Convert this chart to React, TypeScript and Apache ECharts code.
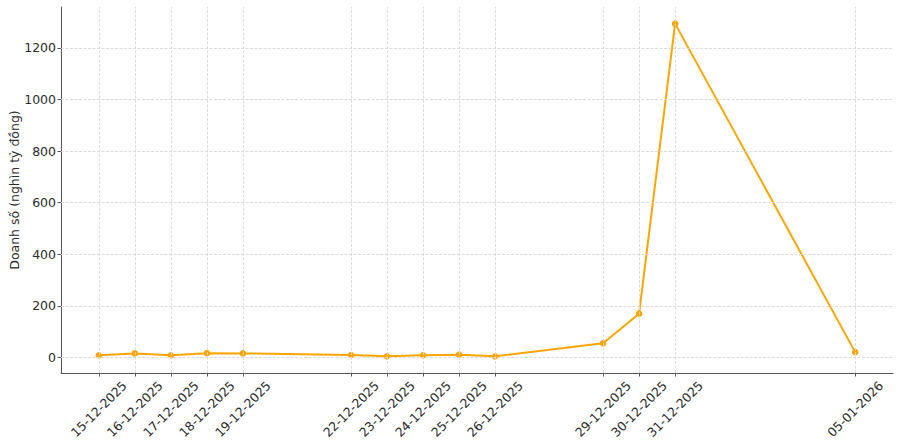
import React, { useEffect, useRef } from 'react';
import * as echarts from 'echarts';

const dates = [
  '15-12-2025', '16-12-2025', '17-12-2025', '18-12-2025', '19-12-2025',
  '22-12-2025', '23-12-2025', '24-12-2025', '25-12-2025', '26-12-2025',
  '29-12-2025', '30-12-2025', '31-12-2025', '05-01-2026',
];
const sales = [8.5, 16, 8.5, 17, 16, 10, 4.5, 8.5, 11, 4.5, 55, 170, 1294, 21];
const yTicks = [0, 200, 400, 600, 800, 1000, 1200];
const yAxisTitle = 'Doanh số (nghìn tỷ đồng)';

function toTs(s: string): number {
  const [d, m, y] = s.split('-').map(Number);
  return Date.UTC(y, m - 1, d);
}

export default function App() {
  const ref = useRef<HTMLDivElement>(null);
  useEffect(() => {
    if (!ref.current) return;
    const chart = echarts.init(ref.current, undefined, { renderer: 'svg' });
    const ts = dates.map(toTs);
    const labelOf: Record<number, string> = {};
    ts.forEach((t, i) => (labelOf[t] = dates[i]));
    const span = ts[ts.length - 1] - ts[0];
    const xMin = ts[0] - span * 0.05;
    const xMax = ts[ts.length - 1] + span * 0.05;
    const yMinData = Math.min(...sales);
    const yMaxData = Math.max(...sales);
    const yr = yMaxData - yMinData;
    const yMin = yMinData - yr * 0.05;
    const yMax = yMaxData + yr * 0.05;
    const font = 'DejaVu Sans';
    const fs = 12.5;
    const axisColor = '#555555';
    const textColor = '#2b2b2b';
    const gridStyle = { color: '#d9d9d9', type: [3, 1.5] as any, width: 0.9 };

    const gridMarks = [
      ...ts.map((t) => ({ xAxis: t })),
      ...yTicks.map((v) => ({ yAxis: v })),
    ];

    chart.setOption({
      animation: false,
      backgroundColor: '#ffffff',
      textStyle: { fontFamily: font },
      grid: { left: 61, right: 7, top: 7, bottom: 73, containLabel: false, outerBoundsMode: 'none' },
      xAxis: {
        type: 'value',
        min: xMin,
        max: xMax,
        axisLine: { show: true, onZero: false, lineStyle: { color: axisColor, width: 1 } },
        axisTick: { show: true, length: 3.5, lineStyle: { color: axisColor }, customValues: ts },
        axisLabel: {
          customValues: ts,
          rotate: 45,
          align: 'center',
          verticalAlign: 'middle',
          margin: 36,
          fontSize: fs,
          fontFamily: font,
          color: textColor,
          formatter: (v: number) => labelOf[v] ?? '',
        },
        splitLine: { show: false },
      },
      yAxis: {
        type: 'value',
        min: yMin,
        max: yMax,
        name: yAxisTitle,
        nameLocation: 'middle',
        nameRotate: 90,
        nameGap: 47,
        nameMoveOverlap: false,
        nameTextStyle: { fontSize: fs, fontFamily: font, color: textColor, verticalAlign: 'middle' },
        axisLine: { show: true, onZero: false, lineStyle: { color: axisColor, width: 1 } },
        axisTick: { show: true, length: 3.5, lineStyle: { color: axisColor }, customValues: yTicks },
        axisLabel: {
          customValues: yTicks,
          margin: 5,
          fontSize: fs,
          fontFamily: font,
          color: textColor,
          formatter: (v: number) => String(v),
        },
        splitLine: { show: false },
      },
      series: [
        {
          type: 'line',
          z: 1,
          data: ts.map((t, i) => [t, sales[i]]),
          symbol: 'none',
          lineStyle: { opacity: 0 },
          silent: true,
          markLine: {
            silent: true,
            symbol: ['none', 'none'],
            label: { show: false },
            lineStyle: gridStyle,
            data: gridMarks,
          },
        },
        {
          type: 'line',
          z: 3,
          data: ts.map((t, i) => [t, sales[i]]),
          symbol: 'circle',
          symbolSize: 6.5,
          itemStyle: { color: '#FFA500' },
          lineStyle: { color: '#FFA500', width: 2 },
        },
      ],
    });
    return () => chart.dispose();
  }, []);
  return (
    <div
      ref={ref}
      style={{ position: 'fixed', left: 0, top: 0, width: 900, height: 446, background: '#fff' }}
    />
  );
}
